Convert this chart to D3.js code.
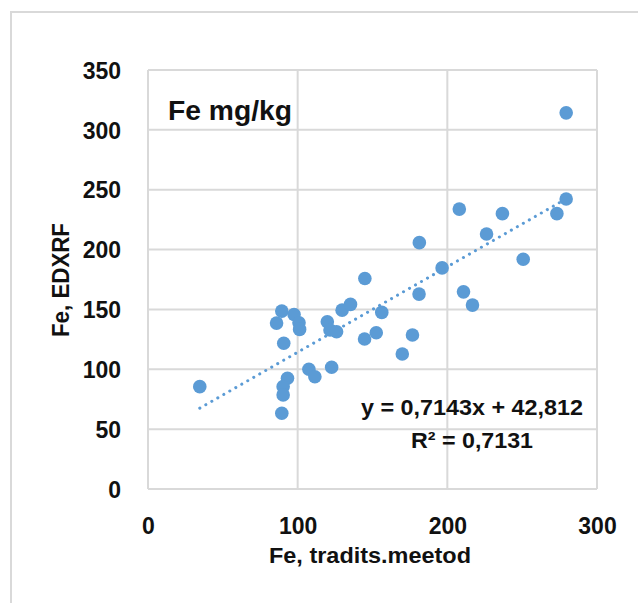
<!DOCTYPE html>
<html>
<head>
<meta charset="utf-8">
<script src="https://cdn.jsdelivr.net/npm/d3@7"></script>
<style>
  html, body { margin: 0; padding: 0; background: #fff; }
  svg { display: block; }
  text { font-family: "Liberation Sans", Arial, sans-serif; fill: #111; }
</style>
</head>
<body>
<svg id="chart" width="638" height="603"></svg>
<script>
// ---- data ----
const xValues = [34.6, 89.4, 97.6, 85.9, 100.9, 101.3, 90.7, 107.5, 111.5, 93.2, 90.3, 90.3, 89.4,
                 122.7, 119.8, 121.6, 126.0, 129.7, 135.3, 144.9, 144.7, 152.5, 156.2, 169.9, 176.7,
                 181.1, 181.3, 196.5, 208.0, 210.8, 216.8, 226.2, 236.8, 250.7, 273.2, 279.4, 279.4];
const yValues = [85.5, 148.6, 145.8, 138.6, 138.8, 133.3, 121.7, 100.0, 93.8, 92.5, 85.5, 78.6, 63.3,
                 101.7, 139.7, 132.8, 131.3, 149.4, 154.2, 175.8, 125.3, 130.5, 147.5, 112.8, 128.6,
                 162.8, 205.8, 184.7, 233.8, 164.7, 153.6, 213.0, 230.0, 191.9, 230.0, 242.2, 314.2];
const xTicks = [0, 100, 200, 300];
const yTicks = [0, 50, 100, 150, 200, 250, 300, 350];
const slope = 0.7143, intercept = 42.812;
const chartTitle = "Fe mg/kg";
const xTitle = "Fe, tradits.meetod";
const yTitle = "Fe, EDXRF";
const eqText = "y = 0,7143x + 42,812";
const r2Text = "R² = 0,7131";

const points = xValues.map((x, i) => ({x, y: yValues[i]}));

const svg = d3.select("#chart");
const x = d3.scaleLinear().domain([0, 300]).range([148, 597]);
const y = d3.scaleLinear().domain([0, 350]).range([489, 70]);

// outer chart border (top & left visible, continues past the window)
svg.append("path")
  .attr("d", "M11,640 L11,12 L660,12")
  .attr("fill", "none").attr("stroke", "#d9d9d9").attr("stroke-width", 2);

const grid = "#d9d9d9";
// gridlines
svg.append("g").selectAll("line").data(yTicks).join("line")
  .attr("x1", x(0)).attr("x2", x(300))
  .attr("y1", d => y(d)).attr("y2", d => y(d))
  .attr("stroke", grid).attr("stroke-width", 2);
svg.append("g").selectAll("line").data(xTicks).join("line")
  .attr("y1", y(0)).attr("y2", y(350))
  .attr("x1", d => x(d)).attr("x2", d => x(d))
  .attr("stroke", grid).attr("stroke-width", 2);

// axes (labels only)
const yAxis = svg.append("g").attr("transform", `translate(${x(0)},0)`)
  .call(d3.axisLeft(y).tickValues(yTicks).tickSize(0).tickPadding(27).tickFormat(d3.format("d")));
yAxis.select(".domain").remove();
yAxis.selectAll("text").attr("dy", "0.36em")
  .style("font-family", '"Liberation Sans", Arial, sans-serif')
  .style("font-size", "23px").style("font-weight", "bold").attr("fill", "#111");

const xAxis = svg.append("g").attr("transform", `translate(0,${y(0)})`)
  .call(d3.axisBottom(x).tickValues(xTicks).tickSize(0).tickPadding(0).tickFormat(d3.format("d")));
xAxis.select(".domain").remove();
xAxis.selectAll("text").attr("y", 45).attr("dy", 0)
  .style("font-family", '"Liberation Sans", Arial, sans-serif')
  .style("font-size", "23px").style("font-weight", "bold").attr("fill", "#111");

// trendline
const xMin = d3.min(xValues), xMax = d3.max(xValues);
svg.append("line")
  .attr("x1", x(xMin)).attr("y1", y(slope * xMin + intercept))
  .attr("x2", x(xMax)).attr("y2", y(slope * xMax + intercept))
  .attr("stroke", "#5B9BD5").attr("stroke-width", 3)
  .attr("stroke-linecap", "round").attr("stroke-dasharray", "0.1 6.8");

// points
svg.append("g").selectAll("circle").data(points).join("circle")
  .attr("cx", d => x(d.x)).attr("cy", d => y(d.y)).attr("r", 6.8)
  .attr("fill", "#5B9BD5");

// titles
svg.append("text").attr("x", 168).attr("y", 120)
  .attr("font-size", 28).attr("font-weight", "bold")
  .attr("textLength", 124).attr("lengthAdjust", "spacingAndGlyphs")
  .text(chartTitle);

svg.append("text").attr("x", 370).attr("y", 563).attr("text-anchor", "middle")
  .attr("font-size", 22).attr("font-weight", "bold")
  .attr("textLength", 202).attr("lengthAdjust", "spacingAndGlyphs")
  .text(xTitle);

svg.append("text").attr("transform", "translate(69,280) rotate(-90)")
  .attr("text-anchor", "middle")
  .attr("font-size", 23).attr("font-weight", "bold")
  .attr("textLength", 114).attr("lengthAdjust", "spacingAndGlyphs")
  .text(yTitle);

// equation
svg.append("text").attr("x", 472).attr("y", 415).attr("text-anchor", "middle")
  .attr("font-size", 22).attr("font-weight", "bold")
  .attr("textLength", 222).attr("lengthAdjust", "spacingAndGlyphs")
  .text(eqText);
svg.append("text").attr("x", 472).attr("y", 448).attr("text-anchor", "middle")
  .attr("font-size", 22).attr("font-weight", "bold")
  .attr("textLength", 122).attr("lengthAdjust", "spacingAndGlyphs")
  .text(r2Text);
</script>
</body>
</html>
